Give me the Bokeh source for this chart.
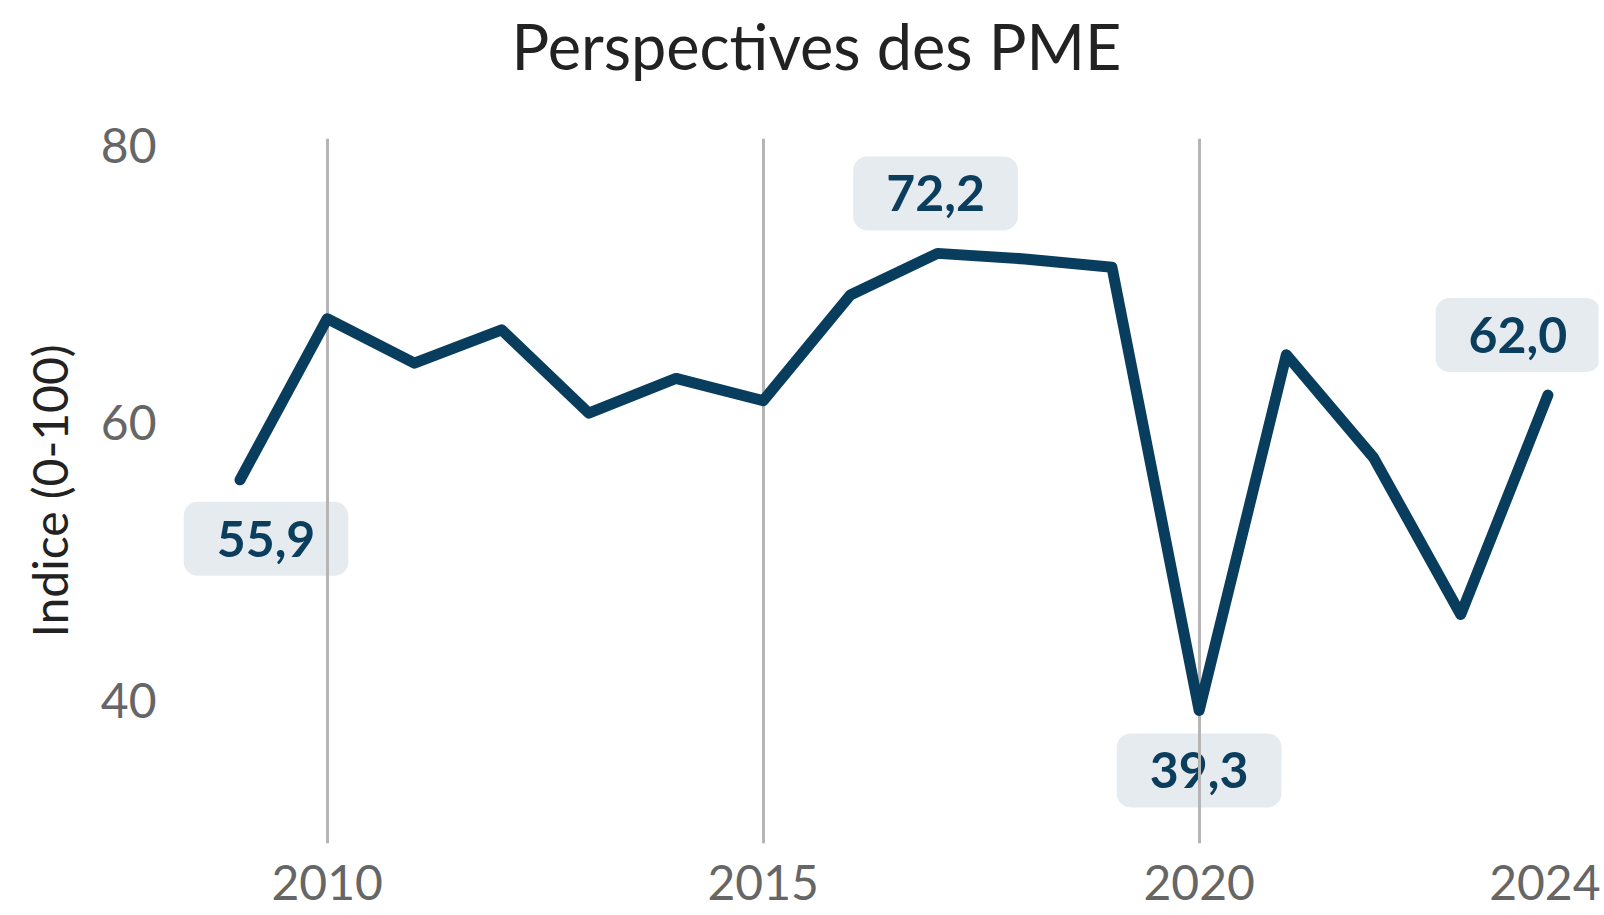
from bokeh.plotting import figure
from bokeh.models import Range1d, FixedTicker, ColumnDataSource, Title
from bokeh.core.properties import value
from bokeh.embed import file_html
from bokeh.resources import INLINE

# ---- data ----
years = list(range(2009, 2025))
values = [55.9, 67.5, 64.3, 66.7, 60.7, 63.2, 61.6, 69.2, 72.2, 71.8, 71.2, 39.3, 64.9, 57.5, 46.2, 62.0]
label_years = [2009, 2017, 2020, 2024]
label_values = [55.9, 72.2, 39.3, 62.0]
label_texts = ["55,9", "72,2", "39,3", "62,0"]
x_ticks = [2010, 2015, 2020, 2024]
grid_years = [2010, 2015, 2020]
y_ticks = [40, 60, 80]

# ---- styles ----
FONT = "Lato"
LINE_COLOR = "#083d5d"
label_dx = [26, -2, 0, -30]
label_dy = [59, -60, 60, -60]

p = figure(
    width=1600, height=915,
    x_range=Range1d(2008.26, 2024.58), y_range=Range1d(29.72, 80.47),
    output_backend="svg", toolbar_location=None,
    min_border_left=175, min_border_right=2, min_border_top=137, min_border_bottom=72,
    outline_line_color=None,
    title="Perspectives des PME",
)

p.title.text_font = FONT
p.title.text_font_size = "63px"
p.title.text_font_style = "normal"
p.title.text_color = "#222222"
p.title.align = "left"
p.title.offset = 336
p.title.vertical_align = "bottom"
p.title.standoff = 10

# spacer between the title and the plot frame
p.add_layout(Title(text=" ", text_font_size="1px", standoff=48), "above")

for ax in (p.xaxis[0], p.yaxis[0]):
    ax.axis_line_color = None
    ax.major_tick_line_color = None
    ax.minor_tick_line_color = None
    ax.major_label_text_font = FONT
    ax.major_label_text_font_size = "48px"
    ax.major_label_text_color = "#666666"

p.xaxis.ticker = FixedTicker(ticks=x_ticks)
p.xaxis.major_label_standoff = 15
p.yaxis.ticker = FixedTicker(ticks=y_ticks)
p.yaxis.major_label_standoff = 13
p.yaxis.axis_label = "Indice (0-100)"
p.yaxis.axis_label_text_font = FONT
p.yaxis.axis_label_text_font_size = "48px"
p.yaxis.axis_label_text_font_style = "normal"
p.yaxis.axis_label_text_color = "#222222"
p.yaxis.axis_label_standoff = 20

p.ygrid.grid_line_color = None
p.xgrid.ticker = FixedTicker(ticks=grid_years)
p.xgrid.grid_line_color = "#b5b5b5"
p.xgrid.grid_line_width = 3

src = ColumnDataSource(dict(x=label_years, y=label_values, t=label_texts, dx=label_dx, dy=label_dy))
p.text(x="x", y="y", text="t", source=src, x_offset="dx", y_offset="dy",
       text_font=value(FONT), text_font_style="bold", text_font_size="50px",
       text_color="#0b3d5c", text_align="center", text_baseline="middle",
       background_fill_color="#e6ebf0", border_radius=14, padding=(33, 19),
       level="underlay")

p.line(years, values, line_width=11, line_color=LINE_COLOR, line_cap="round", line_join="round")

open("out.html", "w").write(file_html(p, INLINE))
